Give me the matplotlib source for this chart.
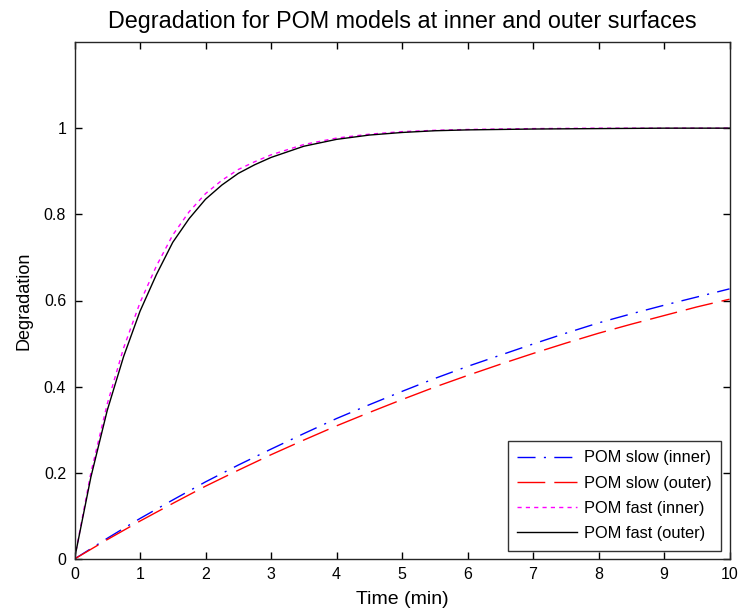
import matplotlib
matplotlib.use('Agg')
import matplotlib.pyplot as plt

plt.rcParams['font.family'] = ['Liberation Sans', 'DejaVu Sans']

# slow models, read at half-minute steps
t_slow = [0, 0.5, 1, 1.5, 2, 2.5, 3, 3.5, 4, 4.5, 5, 5.5, 6, 6.5, 7, 7.5, 8, 8.5, 9, 9.5, 10]
slow_inner = [0, 0.048, 0.094, 0.137, 0.179, 0.218, 0.255, 0.291, 0.326, 0.358, 0.389,
              0.419, 0.447, 0.473, 0.499, 0.524, 0.548, 0.569, 0.589, 0.608, 0.627]
slow_outer = [0, 0.045, 0.088, 0.129, 0.169, 0.206, 0.242, 0.276, 0.309, 0.340, 0.370,
              0.399, 0.426, 0.452, 0.477, 0.501, 0.524, 0.545, 0.565, 0.585, 0.603]

# fast models
t_fast = [0, 0.25, 0.5, 0.75, 1.0, 1.25, 1.5, 1.75, 2.0, 2.25, 2.5, 2.75, 3.0,
          3.5, 4.0, 4.5, 5.0, 5.5, 6, 7, 8, 9, 10]
fast_inner = [0, 0.2, 0.36, 0.49, 0.595, 0.68, 0.752, 0.806, 0.848, 0.879, 0.904, 0.922,
              0.938, 0.962, 0.977, 0.986, 0.992, 0.995, 0.997, 0.999, 1.0, 1.0, 1.0]
fast_outer = [0, 0.19, 0.345, 0.47, 0.575, 0.66, 0.735, 0.79, 0.835, 0.868, 0.895, 0.915,
              0.932, 0.958, 0.974, 0.984, 0.99, 0.994, 0.996, 0.998, 0.999, 1.0, 1.0]

xticks = list(range(0, 11))
yticks = [0, 0.2, 0.4, 0.6, 0.8, 1]

fig = plt.figure(figsize=(7.4, 6.13), dpi=100)
ax = fig.add_axes([74.5 / 740, 54 / 613, (729.5 - 74.5) / 740, (559 - 42) / 613])

ax.plot(t_slow, slow_inner, color='blue', linestyle=(0, (13, 6, 1.5, 6)), lw=1, label='POM slow (inner)')
ax.plot(t_slow, slow_outer, color='red', linestyle=(0, (20, 6.5)), lw=1, label='POM slow (outer)')
ax.plot(t_fast, fast_inner, color='magenta', linestyle=(0, (3, 3)), lw=1, label='POM fast (inner)')
ax.plot(t_fast, fast_outer, color='black', linestyle='-', lw=1, label='POM fast (outer)')

ax.set_xlim(0, 10)
ax.set_ylim(0, 1.2)
ax.set_xticks(xticks)
ax.set_yticks(yticks)
ax.set_yticklabels(['0', '0.2', '0.4', '0.6', '0.8', '1'])
ax.tick_params(direction='in', top=True, right=True, labelsize=11.5, length=5, width=1, pad=6)
for s in ax.spines.values():
    s.set_linewidth(1)
    s.set_color('#262626')

ax.set_xlabel('Time (min)', fontsize=14, labelpad=6)
ax.set_ylabel('Degradation', fontsize=13, labelpad=8)
ax.set_title('Degradation for POM models at inner and outer surfaces', fontsize=16.8, pad=10)

leg = ax.legend(loc='lower right', fontsize=11.8, handlelength=3.65, handletextpad=0.4,
                frameon=True, fancybox=False, edgecolor='black', borderaxespad=0.5,
                borderpad=0.6, labelspacing=0.62)
leg.get_frame().set_linewidth(1)

plt.savefig('out.png', dpi=100)
